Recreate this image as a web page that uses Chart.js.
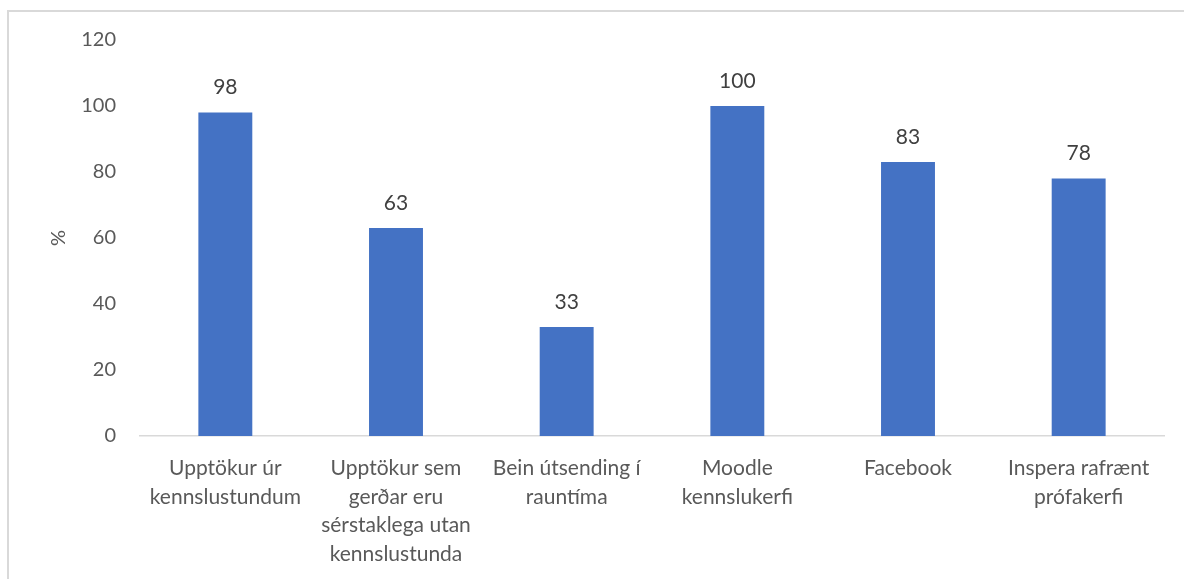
<!DOCTYPE html>
<html>
<head>
<meta charset="utf-8">
<script src="https://cdn.jsdelivr.net/npm/chart.js@4/dist/chart.umd.min.js"></script>
<style>
html,body{margin:0;padding:0;background:#fff;}
#wrap{position:relative;width:1184px;height:579px;overflow:hidden;}
#frame{position:absolute;left:7px;top:10px;width:1300px;height:700px;border-left:2px solid #d9d9d9;border-top:2px solid #d9d9d9;box-sizing:border-box;}
canvas{position:absolute;left:0;top:0;}
</style>
</head>
<body>
<div id="wrap">
<div id="frame"></div>
<canvas id="c" width="1184" height="579"></canvas>
</div>
<script>
const categories = [
  ["Upptökur úr", "kennslustundum"],
  ["Upptökur sem", "gerðar eru", "sérstaklega utan", "kennslustunda"],
  ["Bein útsending í", "rauntíma"],
  ["Moodle", "kennslukerfi"],
  ["Facebook"],
  ["Inspera rafrænt", "prófakerfi"]
];
const values = [98, 63, 33, 100, 83, 78];
const yTicks = [0, 20, 40, 60, 80, 100, 120];
const yTitle = "%";

const FONT = "Lato, 'Open Sans', sans-serif";

const dataLabels = {
  id: 'dataLabels',
  afterDatasetsDraw(chart) {
    const ctx = chart.ctx;
    const meta = chart.getDatasetMeta(0);
    ctx.save();
    ctx.font = "21px " + FONT;
    ctx.fillStyle = "#404040";
    ctx.textAlign = "center";
    ctx.textBaseline = "middle";
    meta.data.forEach((bar, i) => {
      ctx.fillText(String(values[i]), bar.x, bar.y - 25);
    });
    ctx.restore();
  }
};

new Chart(document.getElementById('c'), {
  type: 'bar',
  data: {
    labels: categories,
    datasets: [{
      data: values,
      backgroundColor: '#4472C4',
      borderWidth: 0,
      barPercentage: 0.316,
      categoryPercentage: 1.0
    }]
  },
  options: {
    responsive: false,
    animation: false,
    devicePixelRatio: 1,
    layout: { padding: { left: 45, top: 40, right: 20, bottom: 0 } },
    plugins: { legend: { display: false }, tooltip: { enabled: false } },
    scales: {
      x: {
        grid: { display: false, drawTicks: false },
        border: { display: true, color: '#d9d9d9', width: 1.5 },
        ticks: {
          color: '#595959',
          font: { family: FONT, size: 21, lineHeight: 1.36 },
          padding: 18,
          maxRotation: 0,
          autoSkip: false
        },
        afterFit(scale) { scale.height = 143; }
      },
      y: {
        min: 0, max: 120,
        afterBuildTicks(scale) { scale.ticks = yTicks.map(v => ({ value: v })); },
        grid: { display: false, drawTicks: false },
        border: { display: false },
        ticks: {
          color: '#595959',
          font: { family: FONT, size: 20 },
          padding: 24
        },
        title: {
          display: true,
          text: yTitle,
          color: '#595959',
          font: { family: FONT, size: 20 },
          padding: { top: 2, bottom: 2 }
        },
        afterFit(scale) { scale.width = 95; }
      }
    }
  },
  plugins: [dataLabels]
});
</script>
</body>
</html>
